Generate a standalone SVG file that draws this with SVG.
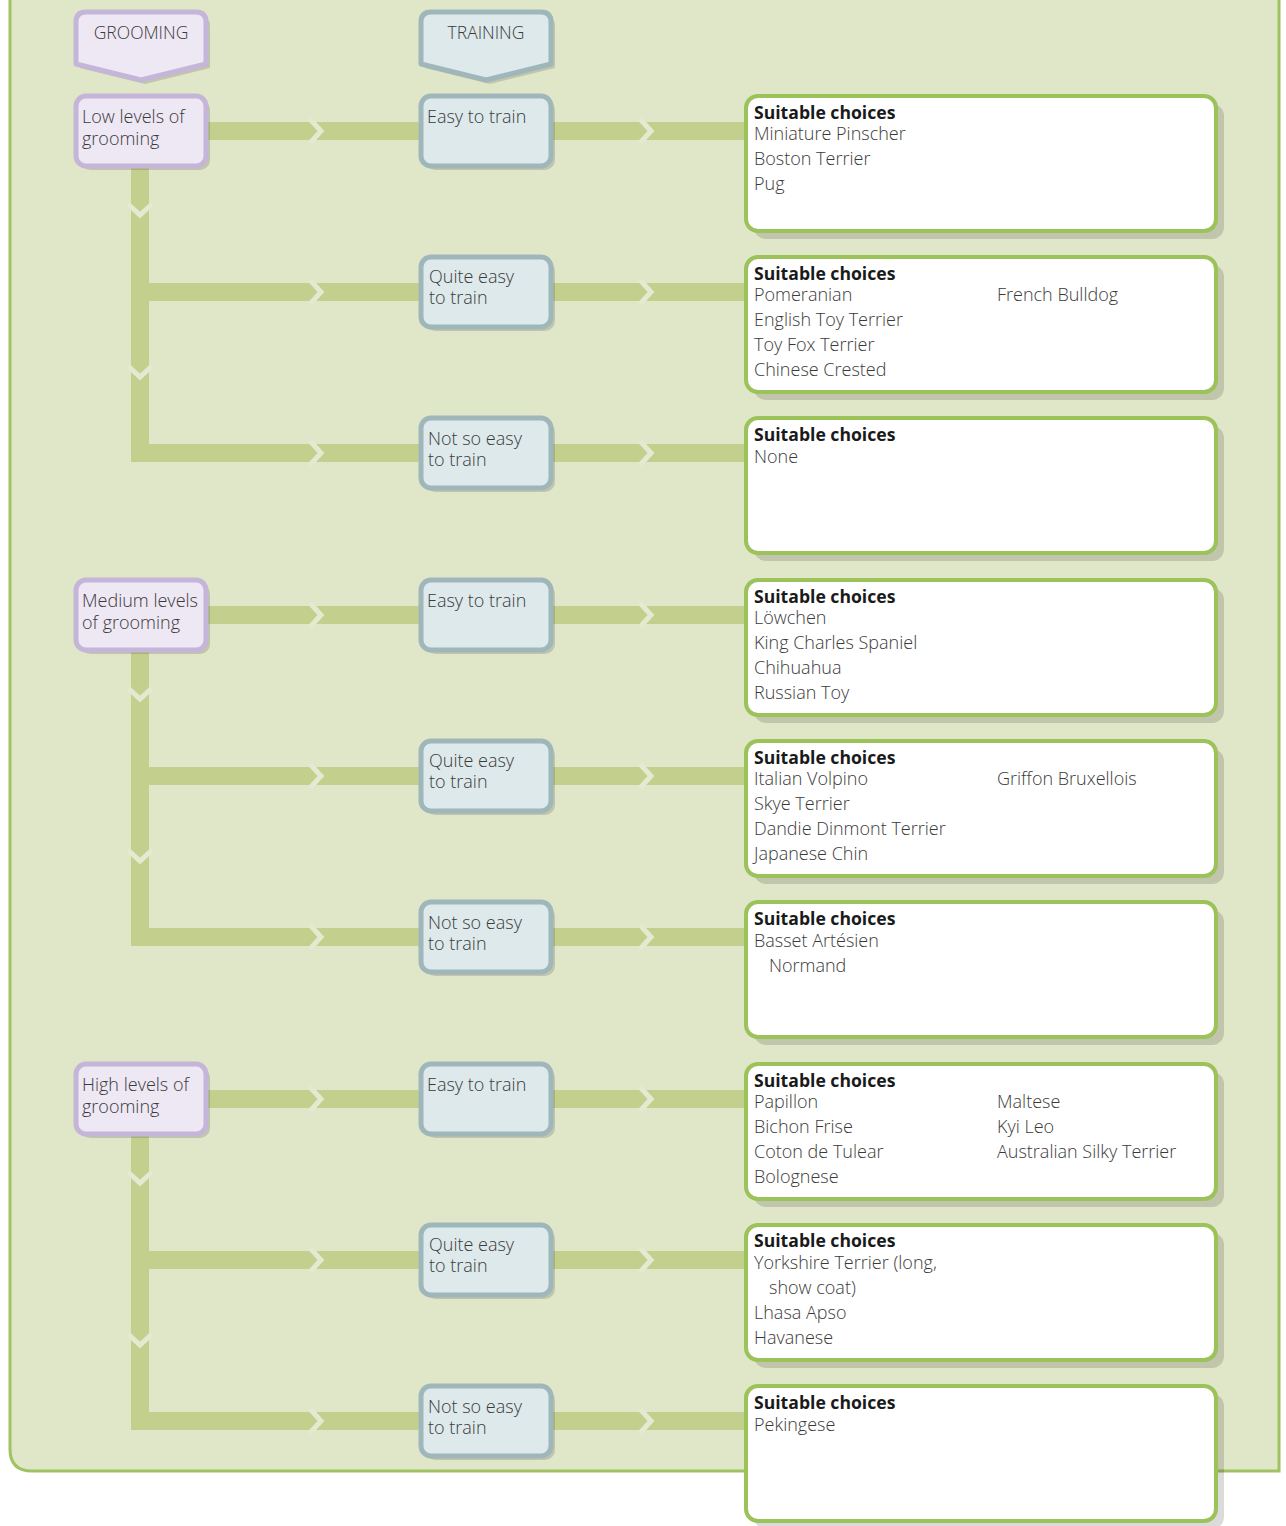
<svg xmlns="http://www.w3.org/2000/svg" width="1286" height="1526" viewBox="0 0 1286 1526">
<style>
  .panel { fill: #e0e6c8; stroke: #a0c262; stroke-width: 3; }
  .band { fill: #c3d08d; }
  .chev { fill: none; stroke: #e4e9d1; stroke-width: 5; stroke-linejoin: miter; }
  .shadow { fill: #000; fill-opacity: 0.14; }
  .groom { fill: #eee7f4; stroke: #c5b5d9; stroke-width: 5; stroke-linejoin: round; }
  .train { fill: #dde9eb; stroke: #9fb7ba; stroke-width: 5; stroke-linejoin: round; }
  .result { fill: #ffffff; stroke: #9cc25a; stroke-width: 4; }
  text { font-family: "Open Sans", "Noto Sans", "Liberation Sans", sans-serif; font-size: 18px; font-weight: 300; fill: #3a3a3a; }
  .title { font-weight: bold; font-size: 17.6px; fill: #1a1a1a; }
  .hdr { text-anchor: middle; font-size: 17.5px; }
</style>
<path class="panel" d="M 10 -10 L 1279 -10 L 1279 1471 L 32 1471 Q 10 1471 10 1449 Z"/>

<g id="connectors">
  <!-- group 1 -->
  <rect class="band" x="131" y="168" width="18" height="294"/>
  <rect class="band" x="206" y="122" width="215" height="18"/>
  <rect class="band" x="551" y="122" width="195" height="18"/>
  <rect class="band" x="149" y="283" width="272" height="18"/>
  <rect class="band" x="551" y="283" width="195" height="18"/>
  <rect class="band" x="131" y="444" width="290" height="18"/>
  <rect class="band" x="551" y="444" width="195" height="18"/>
  <!-- group 2 -->
  <rect class="band" x="131" y="652" width="18" height="294"/>
  <rect class="band" x="206" y="606" width="215" height="18"/>
  <rect class="band" x="551" y="606" width="195" height="18"/>
  <rect class="band" x="149" y="767" width="272" height="18"/>
  <rect class="band" x="551" y="767" width="195" height="18"/>
  <rect class="band" x="131" y="928" width="290" height="18"/>
  <rect class="band" x="551" y="928" width="195" height="18"/>
  <!-- group 3 -->
  <rect class="band" x="131" y="1136" width="18" height="294"/>
  <rect class="band" x="206" y="1090" width="215" height="18"/>
  <rect class="band" x="551" y="1090" width="195" height="18"/>
  <rect class="band" x="149" y="1251" width="272" height="18"/>
  <rect class="band" x="551" y="1251" width="195" height="18"/>
  <rect class="band" x="131" y="1412" width="290" height="18"/>
  <rect class="band" x="551" y="1412" width="195" height="18"/>
  <!-- horizontal chevrons -->
  <g class="chev">
    <polyline points="310,119 321,131 310,143"/><polyline points="640,119 651,131 640,143"/>
    <polyline points="310,280 321,292 310,304"/><polyline points="640,280 651,292 640,304"/>
    <polyline points="310,441 321,453 310,465"/><polyline points="640,441 651,453 640,465"/>
    <polyline points="310,603 321,615 310,627"/><polyline points="640,603 651,615 640,627"/>
    <polyline points="310,764 321,776 310,788"/><polyline points="640,764 651,776 640,788"/>
    <polyline points="310,925 321,937 310,949"/><polyline points="640,925 651,937 640,949"/>
    <polyline points="310,1087 321,1099 310,1111"/><polyline points="640,1087 651,1099 640,1111"/>
    <polyline points="310,1248 321,1260 310,1272"/><polyline points="640,1248 651,1260 640,1272"/>
    <polyline points="310,1409 321,1421 310,1433"/><polyline points="640,1409 651,1421 640,1433"/>
    <!-- vertical chevrons -->
    <polyline points="128,204 140,215 152,204"/><polyline points="128,366 140,377 152,366"/>
    <polyline points="128,688 140,699 152,688"/><polyline points="128,850 140,861 152,850"/>
    <polyline points="128,1172 140,1183 152,1172"/><polyline points="128,1334 140,1345 152,1334"/>
  </g>
</g>

<g id="header-grooming">
  <path class="shadow" d="M 80 26 Q 80 16 90 16 L 200 16 Q 210 16 210 26 L 210 68 L 145 84 L 80 68 Z"/>
  <path class="groom" d="M 76 22 Q 76 12 86 12 L 196 12 Q 206 12 206 22 L 206 64 L 141 80 L 76 64 Z"/>
  <text class="hdr" x="141" y="39">GROOMING</text>
</g>
<g id="header-training">
  <path class="shadow" d="M 425 26 Q 425 16 435 16 L 545 16 Q 555 16 555 26 L 555 68 L 490 84 L 425 68 Z"/>
  <path class="train" d="M 421 22 Q 421 12 431 12 L 541 12 Q 551 12 551 22 L 551 64 L 486 80 L 421 64 Z"/>
  <text class="hdr" x="486" y="39">TRAINING</text>
</g>

<!-- grooming nodes -->
<g id="groom-low">
  <rect class="shadow" x="80" y="100" width="130" height="70" rx="10"/>
  <rect class="groom" x="76" y="96" width="130" height="70" rx="10"/>
  <text x="82" y="123">Low levels of</text><text x="82" y="145">grooming</text>
</g>
<g id="groom-medium">
  <rect class="shadow" x="80" y="584" width="130" height="70" rx="10"/>
  <rect class="groom" x="76" y="580" width="130" height="70" rx="10"/>
  <text x="82" y="607">Medium levels</text><text x="82" y="629">of grooming</text>
</g>
<g id="groom-high">
  <rect class="shadow" x="80" y="1068" width="130" height="70" rx="10"/>
  <rect class="groom" x="76" y="1064" width="130" height="70" rx="10"/>
  <text x="82" y="1091">High levels of</text><text x="82" y="1113">grooming</text>
</g>

<!-- training nodes -->
<g id="train-1"><rect class="shadow" x="425" y="100" width="130" height="70" rx="10"/><rect class="train" x="421" y="96" width="130" height="70" rx="10"/><text x="427" y="123">Easy to train</text></g>
<g id="train-2"><rect class="shadow" x="425" y="261" width="130" height="70" rx="10"/><rect class="train" x="421" y="257" width="130" height="70" rx="10"/><text x="429" y="283">Quite easy</text><text x="429" y="304">to train</text></g>
<g id="train-3"><rect class="shadow" x="425" y="422" width="130" height="70" rx="10"/><rect class="train" x="421" y="418" width="130" height="70" rx="10"/><text x="428" y="445">Not so easy</text><text x="428" y="466">to train</text></g>
<g id="train-4"><rect class="shadow" x="425" y="584" width="130" height="70" rx="10"/><rect class="train" x="421" y="580" width="130" height="70" rx="10"/><text x="427" y="607">Easy to train</text></g>
<g id="train-5"><rect class="shadow" x="425" y="745" width="130" height="70" rx="10"/><rect class="train" x="421" y="741" width="130" height="70" rx="10"/><text x="429" y="767">Quite easy</text><text x="429" y="788">to train</text></g>
<g id="train-6"><rect class="shadow" x="425" y="906" width="130" height="70" rx="10"/><rect class="train" x="421" y="902" width="130" height="70" rx="10"/><text x="428" y="929">Not so easy</text><text x="428" y="950">to train</text></g>
<g id="train-7"><rect class="shadow" x="425" y="1068" width="130" height="70" rx="10"/><rect class="train" x="421" y="1064" width="130" height="70" rx="10"/><text x="427" y="1091">Easy to train</text></g>
<g id="train-8"><rect class="shadow" x="425" y="1229" width="130" height="70" rx="10"/><rect class="train" x="421" y="1225" width="130" height="70" rx="10"/><text x="429" y="1251">Quite easy</text><text x="429" y="1272">to train</text></g>
<g id="train-9"><rect class="shadow" x="425" y="1390" width="130" height="70" rx="10"/><rect class="train" x="421" y="1386" width="130" height="70" rx="10"/><text x="428" y="1413">Not so easy</text><text x="428" y="1434">to train</text></g>

<!-- result boxes -->
<g id="result-1">
  <rect class="shadow" x="754" y="104" width="470" height="135" rx="12"/>
  <rect class="result" x="746" y="96" width="470" height="135" rx="12"/>
  <text class="title" x="754" y="119">Suitable choices</text>
  <text x="754" y="140">Miniature Pinscher</text><text x="754" y="165">Boston Terrier</text><text x="754" y="190">Pug</text>
</g>
<g id="result-2">
  <rect class="shadow" x="754" y="265" width="470" height="135" rx="12"/>
  <rect class="result" x="746" y="257" width="470" height="135" rx="12"/>
  <text class="title" x="754" y="280">Suitable choices</text>
  <text x="754" y="301">Pomeranian</text><text x="754" y="326">English Toy Terrier</text><text x="754" y="351">Toy Fox Terrier</text><text x="754" y="376">Chinese Crested</text>
  <text x="997" y="301">French Bulldog</text>
</g>
<g id="result-3">
  <rect class="shadow" x="754" y="426" width="470" height="135" rx="12"/>
  <rect class="result" x="746" y="418" width="470" height="135" rx="12"/>
  <text class="title" x="754" y="441">Suitable choices</text>
  <text x="754" y="463">None</text>
</g>
<g id="result-4">
  <rect class="shadow" x="754" y="588" width="470" height="135" rx="12"/>
  <rect class="result" x="746" y="580" width="470" height="135" rx="12"/>
  <text class="title" x="754" y="603">Suitable choices</text>
  <text x="754" y="624">Löwchen</text><text x="754" y="649">King Charles Spaniel</text><text x="754" y="674">Chihuahua</text><text x="754" y="699">Russian Toy</text>
</g>
<g id="result-5">
  <rect class="shadow" x="754" y="749" width="470" height="135" rx="12"/>
  <rect class="result" x="746" y="741" width="470" height="135" rx="12"/>
  <text class="title" x="754" y="764">Suitable choices</text>
  <text x="754" y="785">Italian Volpino</text><text x="754" y="810">Skye Terrier</text><text x="754" y="835">Dandie Dinmont Terrier</text><text x="754" y="860">Japanese Chin</text>
  <text x="997" y="785">Griffon Bruxellois</text>
</g>
<g id="result-6">
  <rect class="shadow" x="754" y="910" width="470" height="135" rx="12"/>
  <rect class="result" x="746" y="902" width="470" height="135" rx="12"/>
  <text class="title" x="754" y="925">Suitable choices</text>
  <text x="754" y="947">Basset Artésien</text><text x="769" y="972">Normand</text>
</g>
<g id="result-7">
  <rect class="shadow" x="754" y="1072" width="470" height="135" rx="12"/>
  <rect class="result" x="746" y="1064" width="470" height="135" rx="12"/>
  <text class="title" x="754" y="1087">Suitable choices</text>
  <text x="754" y="1108">Papillon</text><text x="754" y="1133">Bichon Frise</text><text x="754" y="1158">Coton de Tulear</text><text x="754" y="1183">Bolognese</text>
  <text x="997" y="1108">Maltese</text><text x="997" y="1133">Kyi Leo</text><text x="997" y="1158">Australian Silky Terrier</text>
</g>
<g id="result-8">
  <rect class="shadow" x="754" y="1233" width="470" height="135" rx="12"/>
  <rect class="result" x="746" y="1225" width="470" height="135" rx="12"/>
  <text class="title" x="754" y="1247">Suitable choices</text>
  <text x="754" y="1269">Yorkshire Terrier (long,</text><text x="769" y="1294">show coat)</text><text x="754" y="1319">Lhasa Apso</text><text x="754" y="1344">Havanese</text>
</g>
<g id="result-9">
  <rect class="shadow" x="754" y="1394" width="470" height="135" rx="12"/>
  <rect class="result" x="746" y="1386" width="470" height="135" rx="12"/>
  <text class="title" x="754" y="1409">Suitable choices</text>
  <text x="754" y="1431">Pekingese</text>
</g>
</svg>
